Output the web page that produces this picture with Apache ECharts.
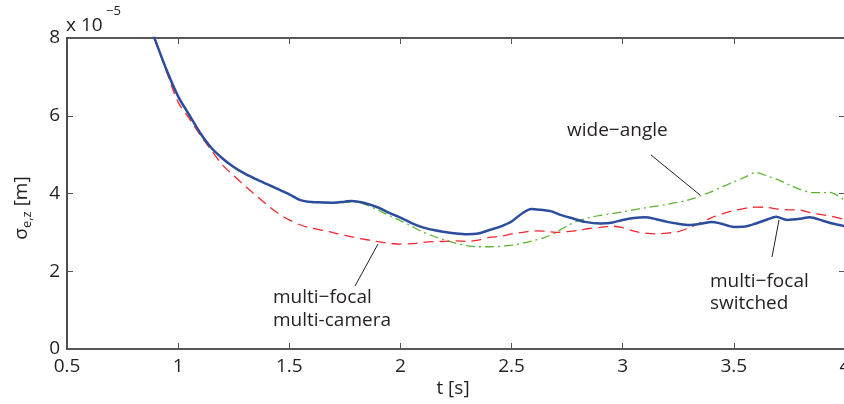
<!DOCTYPE html>
<html>
<head>
<meta charset="utf-8">
<script src="https://cdn.jsdelivr.net/npm/echarts@6/dist/echarts.min.js"></script>
<style>html,body{margin:0;padding:0;background:#fff}#c{width:844px;height:404px}</style>
</head>
<body>
<div id="c"></div>
<script>
// x-axis ticks / y-axis ticks
var xTicks = [0.5, 1, 1.5, 2, 2.5, 3, 3.5, 4];
var yTicks = [0, 2, 4, 6, 8];

// multi-focal switched (blue solid), values in 1e-5 m
var tSwitched = [0.87,0.89,0.95,1.0,1.05,1.1,1.15,1.2,1.25,1.3,1.35,1.4,1.45,1.5,1.55,1.6,1.65,1.7,1.75,1.78,1.83,1.9,1.95,2.0,2.05,2.1,2.15,2.2,2.25,2.3,2.35,2.4,2.45,2.5,2.55,2.59,2.63,2.68,2.72,2.78,2.83,2.9,2.95,3.0,3.05,3.1,3.15,3.2,3.25,3.3,3.35,3.4,3.44,3.5,3.55,3.6,3.65,3.69,3.74,3.8,3.84,3.9,3.95,4.0];
var vSwitched = [8.35,8.05,7.15,6.5,6.02,5.55,5.17,4.9,4.68,4.51,4.37,4.24,4.11,3.98,3.83,3.78,3.77,3.76,3.79,3.81,3.77,3.64,3.50,3.38,3.24,3.13,3.06,3.01,2.97,2.95,2.97,3.06,3.15,3.28,3.50,3.60,3.58,3.54,3.45,3.35,3.27,3.23,3.25,3.32,3.37,3.39,3.34,3.27,3.22,3.19,3.22,3.27,3.23,3.14,3.15,3.23,3.33,3.40,3.32,3.35,3.39,3.30,3.22,3.16];

// multi-focal multi-camera (red dashed)
var tMultiCam = [0.87,0.89,0.95,1.0,1.05,1.1,1.15,1.2,1.25,1.3,1.35,1.4,1.45,1.5,1.55,1.6,1.65,1.7,1.75,1.8,1.85,1.9,1.95,2.0,2.05,2.1,2.15,2.2,2.25,2.3,2.35,2.4,2.45,2.5,2.55,2.6,2.65,2.7,2.75,2.8,2.85,2.9,2.95,3.0,3.05,3.1,3.15,3.2,3.25,3.3,3.35,3.4,3.45,3.5,3.55,3.6,3.65,3.7,3.75,3.8,3.85,3.9,3.95,4.0];
var vMultiCam = [8.35,8.05,7.1,6.35,5.93,5.5,5.11,4.73,4.46,4.2,3.95,3.71,3.49,3.32,3.19,3.11,3.05,2.99,2.92,2.86,2.81,2.76,2.72,2.70,2.71,2.74,2.76,2.77,2.78,2.77,2.80,2.87,2.90,2.96,3.0,3.04,3.03,3.0,3.02,3.05,3.10,3.13,3.16,3.12,3.03,2.98,2.96,2.98,3.02,3.12,3.25,3.38,3.48,3.56,3.62,3.65,3.64,3.60,3.58,3.57,3.50,3.45,3.40,3.33];

// wide-angle (green dash-dot)
var tWide = [0.87,0.89,0.95,1.0,1.05,1.1,1.15,1.2,1.25,1.3,1.35,1.4,1.45,1.5,1.55,1.6,1.65,1.7,1.75,1.8,1.85,1.9,1.95,2.0,2.05,2.1,2.15,2.2,2.25,2.3,2.35,2.4,2.45,2.5,2.55,2.6,2.65,2.7,2.75,2.8,2.85,2.9,2.95,3.0,3.1,3.2,3.3,3.35,3.4,3.45,3.5,3.55,3.6,3.65,3.7,3.75,3.8,3.85,3.9,3.93,4.0];
var vWide = [8.35,8.04,7.14,6.49,6.01,5.54,5.16,4.89,4.67,4.50,4.36,4.23,4.10,3.97,3.82,3.77,3.76,3.75,3.77,3.78,3.70,3.57,3.43,3.30,3.16,3.01,2.90,2.80,2.72,2.66,2.63,2.63,2.64,2.67,2.72,2.79,2.87,3.0,3.17,3.30,3.38,3.44,3.48,3.53,3.63,3.72,3.84,3.94,4.05,4.18,4.30,4.42,4.54,4.45,4.35,4.22,4.10,4.02,4.02,4.03,3.82];

function zip(t, v) { return t.map(function (x, i) { return [x, v[i]]; }); }

var textColor = '#231f20';
var font = '"Open Sans", "DejaVu Sans", sans-serif';

var chart = echarts.init(document.getElementById('c'), null, {renderer: 'canvas'});

function axisCommon(showLabel, isX) {
  return {
    type: 'value',
    min: isX ? 0.5 : 0,
    max: isX ? 4 : 8,
    interval: isX ? 0.5 : 2,
    axisLine: {show: true, onZero: false, lineStyle: {color: textColor, width: 1.6}},
    axisTick: {show: true, inside: true, length: 6, lineStyle: {color: '#555', width: 1}},
    splitLine: {show: false},
    axisLabel: {
      show: showLabel,
      color: textColor,
      fontFamily: font,
      fontSize: 19,
      margin: isX ? 8 : 7,
      formatter: function (v) { return String(v); }
    }
  };
}

var xBottom = axisCommon(true, true); xBottom.position = 'bottom';
var xTop = axisCommon(false, true); xTop.position = 'top';
var yLeft = axisCommon(true, false); yLeft.position = 'left';
var yRight = axisCommon(false, false); yRight.position = 'right';

chart.setOption({
  animation: false,
  backgroundColor: '#fff',
  grid: {left: 67, top: 38, width: 778, height: 311, containLabel: false, outerBoundsMode: 'none'},
  xAxis: [xBottom, xTop],
  yAxis: [yLeft, yRight],
  series: [
    {
      name: 'wide−angle', type: 'line', xAxisIndex: 0, yAxisIndex: 0,
      data: zip(tWide, vWide), showSymbol: false, smooth: 0.3, clip: true,
      lineStyle: {color: '#5ab52f', width: 1.3, type: [9, 4, 2, 4]}
    },
    {
      name: 'multi−focal multi-camera', type: 'line', xAxisIndex: 0, yAxisIndex: 0,
      data: zip(tMultiCam, vMultiCam), showSymbol: false, smooth: 0.3, clip: true,
      lineStyle: {color: '#f0262e', width: 1.3, type: [10, 6]}
    },
    {
      name: 'multi−focal switched', type: 'line', xAxisIndex: 0, yAxisIndex: 0,
      data: zip(tSwitched, vSwitched), showSymbol: false, smooth: 0.3, clip: true,
      lineStyle: {color: '#2c4c9e', width: 2.5}
    }
  ],
  graphic: [
    {type: 'text', left: 66, top: 16, style: {text: 'x 10', font: '19px ' + font, fill: textColor}},
    {type: 'text', left: 106, top: 5, style: {text: '−5', font: '13px ' + font, fill: textColor}},
    {type: 'text', x: 22, y: 208, rotation: Math.PI / 2,
      style: {
        text: '{s|σ}{sub|e,z}{s| [m]}',
        rich: {
          s: {font: '19px ' + font, fill: textColor},
          sub: {font: '13px ' + font, fill: textColor, padding: [10, 0, 0, 0]}
        },
        align: 'center', verticalAlign: 'middle'
      }
    },
    {type: 'text', x: 453, y: 389, style: {text: 't [s]', font: '19px ' + font, fill: textColor, align: 'center', verticalAlign: 'middle'}},
    {type: 'text', x: 567, y: 131, style: {text: 'wide−angle', font: '19px ' + font, fill: textColor, verticalAlign: 'middle'}},
    {type: 'text', x: 710, y: 282, style: {text: 'multi−focal', font: '19px ' + font, fill: textColor, verticalAlign: 'middle'}},
    {type: 'text', x: 710, y: 304, style: {text: 'switched', font: '19px ' + font, fill: textColor, verticalAlign: 'middle'}},
    {type: 'text', x: 273, y: 298, style: {text: 'multi−focal', font: '19px ' + font, fill: textColor, verticalAlign: 'middle'}},
    {type: 'text', x: 273, y: 321, style: {text: 'multi-camera', font: '19px ' + font, fill: textColor, verticalAlign: 'middle'}},
    {type: 'line', shape: {x1: 651, y1: 155, x2: 700, y2: 195}, style: {stroke: '#222', lineWidth: 1}},
    {type: 'line', shape: {x1: 772, y1: 257, x2: 779, y2: 220}, style: {stroke: '#222', lineWidth: 1}},
    {type: 'line', shape: {x1: 355, y1: 286, x2: 378, y2: 244}, style: {stroke: '#222', lineWidth: 1}}
  ]
});
</script>
</body>
</html>
